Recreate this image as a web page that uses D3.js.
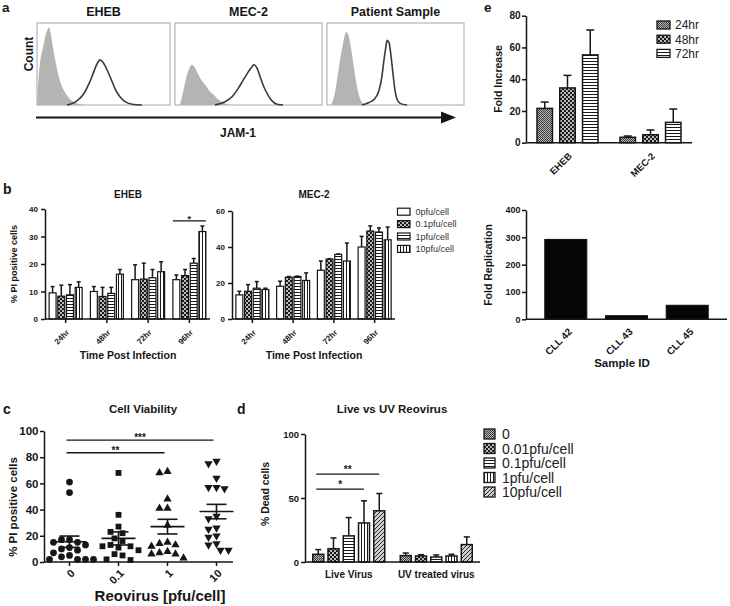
<!DOCTYPE html>
<html><head><meta charset="utf-8">
<script src="https://cdn.jsdelivr.net/npm/d3@7/dist/d3.min.js"></script>
<style>html,body{margin:0;padding:0;background:#fff}svg{display:block}</style>
</head><body><svg id="fig" width="730" height="606"></svg>
<script>
// ================= DATA =================
// Panel a: flow cytometry histograms (channel 0-100 across box, count as % of box height)
const histTitles = ["EHEB", "MEC-2", "Patient Sample"];
const isoChannel = [
  [0, 1, 2, 4.5, 7, 8.5, 9, 10.5, 12, 14.3, 16.5, 19.5, 22.5, 25.5, 30, 37.5],
  [3.4, 5.4, 7.5, 9.5, 11.6, 13.6, 15.6, 17.7, 20.4, 23.1, 25.9, 28.6, 32.7, 37.4],
  [2.9, 5.1, 7.3, 9.5, 11.7, 13.9, 15.3, 17.5, 19.7, 21.9, 24.1, 26.3, 29.2]
];
const isoCount = [
  [0, 30, 48, 70, 88, 94, 95, 85, 70, 50, 34, 20, 12, 6, 2, 0],
  [0, 15, 32, 44, 49, 45, 38, 31, 25, 18, 13, 8, 3, 0],
  [0, 10, 30, 55, 75, 89, 87, 70, 45, 22, 8, 2, 0]
];
const jamChannel = [
  [22.5, 30, 35.3, 39.1, 42.1, 45.1, 47.4, 49.6, 52.6, 55.6, 58.6, 62.4, 66.2, 71.4, 78.9],
  [27.2, 34, 38.8, 42.9, 46.3, 49, 51.7, 53.7, 55.8, 57.8, 60.5, 63.3, 66, 69.4, 73.5],
  [25.5, 30.7, 35, 38, 40.1, 41.6, 43.1, 43.8, 45.3, 46.7, 48.2, 49.6, 51.1, 53.3, 58.4]
];
const jamCount = [
  [0, 5, 14, 26, 38, 50, 55, 52, 43, 32, 20, 10, 4, 1, 0],
  [0, 4, 10, 20, 30, 38, 45, 49, 45, 35, 22, 12, 5, 1, 0],
  [0, 3, 8, 18, 35, 55, 72, 79, 76, 60, 38, 18, 7, 2, 0]
];

// Panel b: % PI positive cells
const timeCats = ["24hr", "48hr", "72hr", "96hr"];
const doseCats = ["0pfu/cell", "0.1pfu/cell", "1pfu/cell", "10pfu/cell"];
const ehebMean = [[9.5, 8.3, 8.8, 11.5], [10, 8.2, 9.3, 16.3], [14.3, 14.5, 15, 17.2], [14.3, 15.8, 20.3, 31.8]];
const ehebSem  = [[2.3, 4, 3.7, 2], [1.8, 3.3, 2.2, 1.7], [5.4, 5.8, 3, 3.6], [1.7, 2.2, 1.7, 2]];
const mecMean  = [[13.4, 15.4, 17.1, 16.4], [18.2, 23.2, 23.6, 21.4], [27.1, 33.3, 35.9, 32.2], [40, 48.9, 48.3, 44]];
const mecSem   = [[2, 3.7, 3.7, 0.7], [2.8, 0.4, 0.2, 4.2], [5.1, 0.2, 0.2, 10], [5.9, 2.8, 2.3, 7.1]];
const ehebTicks = [0, 10, 20, 30, 40];
const mecTicks = [0, 20, 40, 60];
const bSig = { time: "96hr", from: 0, to: 3, value: 35.7, label: "*" };

// Panel c: cell viability scatter
const cCats = ["0", "0.1", "1", "10"];
const cPts0  = [61, 53, 17, 17, 15, 15, 13, 11, 10, 9, 7, 5, 4, 2, 2, 2, 2];
const cPts01 = [68, 36, 27, 23, 22, 18, 16, 13, 12, 12, 11, 9, 6, 5, 2, 1.5];
const cPts1  = [69, 68, 48, 41, 41, 28, 15, 14, 13, 12, 8, 7, 6, 6, 3];
const cPts10 = [77, 75, 64, 57, 57, 56, 35, 33, 26, 25, 20, 19, 14, 13, 9, 9];
const cMean = [15.5, 18, 27, 38.5];
const cSem = [4.3, 5, 5.6, 5.5];
const cTicks = [0, 20, 40, 60, 80, 100];
const cSigTo = ["1", "10"];
const cSigValue = [83.4, 93.1];
const cSigLabel = ["**", "***"];

// Panel d: live vs UV reovirus
const dCats = ["Live Virus", "UV treated virus"];
const dDoses = ["0", "0.01pfu/cell", "0.1pfu/cell", "1pfu/cell", "10pfu/cell"];
const dMean = [[6, 10.4, 20.4, 30.5, 40], [5, 4.7, 3.9, 4.7, 13.6]];
const dSem  = [[3.7, 8.4, 14.3, 17.3, 13.5], [2, 1, 1.6, 1.3, 6]];
const dTicks = [0, 50, 100];
const dSigTo = [3, 4];
const dSigValue = [57, 68.7];
const dSigLabel = ["*", "**"];

// Panel e (top): fold increase
const eCats = ["EHEB", "MEC-2"];
const eTimes = ["24hr", "48hr", "72hr"];
const eMean = [[21.6, 34.5, 55.3], [3.4, 5, 12.8]];
const eSem  = [[4, 7.9, 15.7], [0.8, 3, 8.4]];
const eTicks = [0, 20, 40, 60, 80];

// Panel e (bottom): fold replication
const sampleIds = ["CLL 42", "CLL 43", "CLL 45"];
const foldRep = [292, 13, 51];
const repTicks = [0, 100, 200, 300, 400];

// ================= DRAWING =================
const FONT = '"Liberation Sans", Arial, Helvetica, sans-serif';
const ink = "#161616";
const svg = d3.select("#fig").attr("font-family", FONT);
svg.append("rect").attr("width", 730).attr("height", 606).attr("fill", "#fff");

// patterns
const defs = svg.append("defs");
function pat(id, w, h, draw) {
  const p = defs.append("pattern").attr("id", id).attr("patternUnits", "userSpaceOnUse")
    .attr("width", w).attr("height", h);
  draw(p);
}
pat("pWhite", 4, 4, p => p.append("rect").attr("width", 4).attr("height", 4).attr("fill", "#fff"));
pat("pDense", 2, 2, p => {
  p.append("rect").attr("width", 2).attr("height", 2).attr("fill", "#b8b8b8");
  p.append("rect").attr("width", 1).attr("height", 1).attr("fill", "#3a3a3a");
  p.append("rect").attr("x", 1).attr("y", 1).attr("width", 1).attr("height", 1).attr("fill", "#3a3a3a");
});
pat("pCheck", 4, 4, p => {
  p.append("rect").attr("width", 4).attr("height", 4).attr("fill", "#1a1a1a");
  p.append("circle").attr("cx", 1).attr("cy", 1).attr("r", 0.95).attr("fill", "#fff");
  p.append("circle").attr("cx", 3).attr("cy", 3).attr("r", 0.95).attr("fill", "#fff");
});
pat("pH", 3, 3, p => {
  p.append("rect").attr("width", 3).attr("height", 3).attr("fill", "#fff");
  p.append("rect").attr("y", 1).attr("width", 3).attr("height", 1).attr("fill", "#1a1a1a");
});
pat("pV", 3, 3, p => {
  p.append("rect").attr("width", 3).attr("height", 3).attr("fill", "#fff");
  p.append("rect").attr("x", 1).attr("width", 1).attr("height", 3).attr("fill", "#1a1a1a");
});
pat("pDiag", 4, 4, p => {
  p.append("rect").attr("width", 4).attr("height", 4).attr("fill", "#d0d0d0");
  p.append("path").attr("d", "M-1,1 L1,-1 M0,4 L4,0 M3,5 L5,3").attr("stroke", "#222").attr("stroke-width", 1);
});

function txt(x, y, s, size, o = {}) {
  const t = svg.append("text").attr("x", x).attr("y", y).text(s)
    .attr("font-size", size).attr("fill", o.fill || ink)
    .attr("font-weight", o.bold === false ? "normal" : "bold")
    .attr("text-anchor", o.anchor || "middle");
  if (o.rot) t.attr("transform", `rotate(${o.rot},${x},${y})`);
  return t;
}
function line(x1, y1, x2, y2, w = 1.5, c = ink) {
  return svg.append("line").attr("x1", x1).attr("y1", y1).attr("x2", x2).attr("y2", y2)
    .attr("stroke", c).attr("stroke-width", w);
}
function yAxis(y, x0, ticks, fs, tick = 4, pad = 2) {
  const a = svg.append("g").attr("transform", `translate(${x0},0)`)
    .call(d3.axisLeft(y).tickValues(ticks).tickSize(tick).tickSizeOuter(0).tickPadding(pad));
  a.attr("font-family", FONT).attr("font-size", fs);
  a.select(".domain").attr("stroke", ink).attr("stroke-width", 1.5);
  a.selectAll(".tick line").attr("stroke", ink).attr("stroke-width", 1.5);
  a.selectAll(".tick text").attr("fill", ink).attr("font-weight", "bold");
  return a;
}
function rotLabels(cats, x, y0, dx, dy, fs) {
  cats.forEach(c => txt(x(c) + dx, y0 + dy, c, fs, { anchor: "end", rot: -45 }));
}
function groupedBars(x, inner, y, cats, series, means, sems, fills, cap, sw) {
  cats.forEach((c, i) => {
    series.forEach((s, j) => {
      const bw = inner.bandwidth();
      const bx = x(c) + inner(s);
      const v = means[i][j], e = sems[i][j];
      const cx = bx + bw / 2;
      line(cx, y(v), cx, y(v + e), 1.5);
      line(cx - cap / 2, y(v + e), cx + cap / 2, y(v + e), 1.5);
      svg.append("rect").attr("x", bx).attr("y", y(v)).attr("width", bw).attr("height", y(0) - y(v))
        .attr("fill", `url(#${fills[j]})`).attr("stroke", ink).attr("stroke-width", sw);
    });
  });
}

// ---- Panel labels ----
txt(2, 12, "a", 13.5, { anchor: "start" });
txt(3, 194, "b", 14, { anchor: "start" });
txt(3, 414, "c", 14, { anchor: "start" });
txt(237, 414, "d", 14, { anchor: "start" });
txt(484, 12, "e", 13.5, { anchor: "start" });

// ---- Panel a ----
const aBoxes = [[37, 170], [175, 322], [327, 464]];
const aTop = 23, aBot = 105;
histTitles.forEach((t, i) => {
  const [x0, x1] = aBoxes[i];
  const hx = d3.scaleLinear().domain([0, 100]).range([x0, x1]);
  const hy = d3.scaleLinear().domain([0, 100]).range([aBot, aTop]);
  svg.append("rect").attr("x", x0).attr("y", aTop).attr("width", x1 - x0).attr("height", aBot - aTop)
    .attr("fill", "#fff").attr("stroke", "#a8a8a8").attr("stroke-width", 1);
  const iso = isoChannel[i].map((c, k) => [c, isoCount[i][k]]);
  svg.append("path").datum(iso)
    .attr("d", d3.area().x(d => hx(d[0])).y0(aBot).y1(d => hy(d[1])).curve(d3.curveMonotoneX))
    .attr("fill", "#b4b4b4");
  const jam = jamChannel[i].map((c, k) => [c, jamCount[i][k]]);
  svg.append("path").datum(jam)
    .attr("d", d3.line().x(d => hx(d[0])).y(d => hy(d[1])).curve(d3.curveMonotoneX))
    .attr("fill", "none").attr("stroke", "#3a3a3a").attr("stroke-width", 1.6);
  txt((x0 + x1) / 2, 15.5, t, 12.5);
});
txt(33, 54, "Count", 12, { rot: -90 });
line(36, 117.5, 443, 117.5, 2);
svg.append("polygon").attr("points", "441,111.5 456,117.5 441,123.5").attr("fill", ink);
txt(238, 137, "JAM-1", 12);

// ---- Panel b ----
function panelB(title, means, sems, ticks, maxV, xr, yTop, titleX) {
  const x = d3.scalePoint().domain(timeCats).range(xr).padding(0.5);
  const y = d3.scaleLinear().domain([0, maxV]).range([319, yTop]);
  const inner = d3.scaleBand().domain(doseCats).range([-16.5, 16.5]).paddingInner(0.2);
  groupedBars(x, inner, y, timeCats, doseCats, means, sems, ["pWhite", "pCheck", "pH", "pV"], 4, 1.2);
  yAxis(y, xr[0], ticks, 8, 4, 3);
  line(xr[0], 319, xr[1], 319, 1.5);
  timeCats.forEach(c => line(x(c), 319, x(c), 323, 1.5));
  rotLabels(timeCats, x, 319, 4, 14, 8);
  txt(titleX, 198, title, 10);
  txt(titleX, 359, "Time Post Infection", 10.5);
  return { x, y, inner };
}
const bE = panelB("EHEB", ehebMean, ehebSem, ehebTicks, 40, [45, 210], 209, 128);
panelB("MEC-2", mecMean, mecSem, mecTicks, 60, [232, 395], 211, 314);
txt(17, 264, "% PI positive cells", 9, { rot: -90 });
{
  const gx = bE.x(bSig.time);
  const x1 = gx + bE.inner(doseCats[bSig.from]);
  const x2 = gx + bE.inner(doseCats[bSig.to]) + bE.inner.bandwidth();
  const ly = bE.y(bSig.value);
  line(x1, ly, x2, ly, 1.2);
  txt((x1 + x2) / 2, ly + 1, bSig.label, 9);
}
// legend b
doseCats.forEach((d, i) => {
  const cy = 211.7 + i * 12.4;
  svg.append("rect").attr("x", 397.5).attr("y", cy - 3.5).attr("width", 12.5).attr("height", 7)
    .attr("fill", `url(#${["pWhite", "pCheck", "pH", "pV"][i]})`).attr("stroke", ink).attr("stroke-width", 1.2);
  txt(415.5, cy + 3.3, d, 9, { anchor: "start", bold: false, fill: "#333" });
});

// ---- Panel c ----
{
  const x = d3.scalePoint().domain(cCats).range([45, 241]).padding(0.5);
  const y = d3.scaleLinear().domain([0, 100]).range([562, 431]);
  const groups = [cPts0, cPts01, cPts1, cPts10];
  const shapes = [d3.symbolCircle, d3.symbolSquare, d3.symbolTriangle, d3.symbolTriangle];
  const sizes = [36, 34, 30, 30];
  groups.forEach((vals, gi) => {
    const cx = x(cCats[gi]);
    const placed = [];
    vals.slice().sort((a, b) => b - a).forEach(v => {
      const py = y(v);
      for (let k = 0; k < 60; k++) {
        const off = k === 0 ? 0 : (k % 2 ? -Math.ceil(k / 2) : Math.ceil(k / 2)) * 4;
        const px = cx + off;
        if (placed.every(p => Math.hypot(p[0] - px, p[1] - py) >= 7.5)) { placed.push([px, py]); break; }
      }
    });
    placed.forEach(([px, py]) => {
      svg.append("path").attr("d", d3.symbol().type(shapes[gi]).size(sizes[gi])())
        .attr("transform", `translate(${px},${py})${gi === 3 ? " rotate(180)" : ""}`)
        .attr("fill", ink);
    });
    // mean +/- SEM
    const m = cMean[gi], s = cSem[gi];
    line(cx - 17, y(m), cx + 17, y(m), 1.6);
    line(cx, y(m - s), cx, y(m + s), 1.6);
    line(cx - 10, y(m - s), cx + 10, y(m - s), 1.6);
    line(cx - 10, y(m + s), cx + 10, y(m + s), 1.6);
  });
  yAxis(y, 44, cTicks, 11.5, 4, 1.5);
  line(44, 562, 233, 562, 1.5);
  cCats.forEach(c => line(x(c), 562, x(c), 566, 1.5));
  rotLabels(cCats, x, 562, 6, 12, 11);
  cSigTo.forEach((to, i) => {
    const ly = y(cSigValue[i]);
    line(x("0") - 3, ly, x(to) - 3, ly, 1.3);
    txt((x("0") + x(to)) / 2 - 3, ly + 1, cSigLabel[i], 10);
  });
  txt(143, 413, "Cell Viability", 11.5);
  txt(17, 507, "% PI positive cells", 11.5, { rot: -90 });
  txt(160, 601, "Reovirus [pfu/cell]", 15);
}

// ---- Panel d ----
{
  const x = d3.scalePoint().domain(dCats).range([305, 480]).padding(0.5);
  const y = d3.scaleLinear().domain([0, 100]).range([562, 434]);
  const inner = d3.scaleBand().domain(dDoses).range([-36, 36]).paddingInner(0.28);
  const fills = ["pDense", "pCheck", "pH", "pV", "pDiag"];
  groupedBars(x, inner, y, dCats, dDoses, dMean, dSem, fills, 6, 1.5);
  yAxis(y, 305, dTicks, 9.5, 4, 2);
  line(305, 562, 480, 562, 1.5);
  dCats.forEach(c => txt(x(c), 578, c, 10));
  dSigTo.forEach((to, i) => {
    const g = x(dCats[0]);
    const x1 = g + inner(dDoses[0]) + inner.bandwidth() / 2 - 2;
    const x2 = g + inner(dDoses[to]) + inner.bandwidth() / 2;
    const ly = y(dSigValue[i]);
    line(x1, ly, x2, ly, 1.3);
    txt((x1 + x2) / 2, ly - 1, dSigLabel[i], 10);
  });
  txt(392, 413, "Live vs UV Reovirus", 11.5);
  txt(269, 494, "% Dead cells", 10.5, { rot: -90 });
  dDoses.forEach((d, i) => {
    const cy = 434 + i * 14.5;
    svg.append("rect").attr("x", 484).attr("y", cy - 5).attr("width", 11).attr("height", 10)
      .attr("fill", `url(#${fills[i]})`).attr("stroke", ink).attr("stroke-width", 1.3);
    txt(502, cy + 5, d, 14, { anchor: "start", bold: false, fill: "#222" });
  });
}

// ---- Panel e (top) ----
{
  const x = d3.scalePoint().domain(eCats).range([526, 692]).padding(0.5);
  const y = d3.scaleLinear().domain([0, 80]).range([142.7, 15.7]);
  const inner = d3.scaleBand().domain(eTimes).range([-30.5, 30.5]).paddingInner(0.32);
  const fills = ["pDense", "pCheck", "pH"];
  groupedBars(x, inner, y, eCats, eTimes, eMean, eSem, fills, 8, 1.5);
  yAxis(y, 526, eTicks, 10, 4, 1.5);
  line(526, 142.7, 692, 142.7, 1.5);
  rotLabels(eCats, x, 142.7, 5, 14, 9.5);
  txt(502, 79, "Fold Increase", 10.5, { rot: -90 });
  eTimes.forEach((t, i) => {
    const cy = 25 + i * 14.2;
    svg.append("rect").attr("x", 657).attr("y", cy - 4).attr("width", 13).attr("height", 8)
      .attr("fill", `url(#${fills[i]})`).attr("stroke", ink).attr("stroke-width", 1.3);
    txt(675, cy + 4.3, t, 12, { anchor: "start", bold: false, fill: "#222" });
  });
}

// ---- Panel e (bottom) ----
{
  const x = d3.scaleBand().domain(sampleIds).range([526, 727]).padding(0.31);
  const y = d3.scaleLinear().domain([0, 400]).range([319.3, 210]);
  sampleIds.forEach((s, i) => {
    svg.append("rect").attr("x", x(s)).attr("y", y(foldRep[i])).attr("width", x.bandwidth())
      .attr("height", y(0) - y(foldRep[i])).attr("fill", "#050505").attr("stroke", ink).attr("stroke-width", 1.2);
  });
  yAxis(y, 526, repTicks, 9, 4, 1.5);
  line(526, 319.3, 727, 319.3, 1.5);
  const xc = d3.scalePoint().domain(sampleIds).range([x(sampleIds[0]) + x.bandwidth() / 2, x(sampleIds[2]) + x.bandwidth() / 2]);
  rotLabels(sampleIds, xc, 319.3, 7, 13, 10);
  txt(622, 367, "Sample ID", 11.5);
  txt(492, 265, "Fold Replication", 10.5, { rot: -90 });
}
</script></body></html>
